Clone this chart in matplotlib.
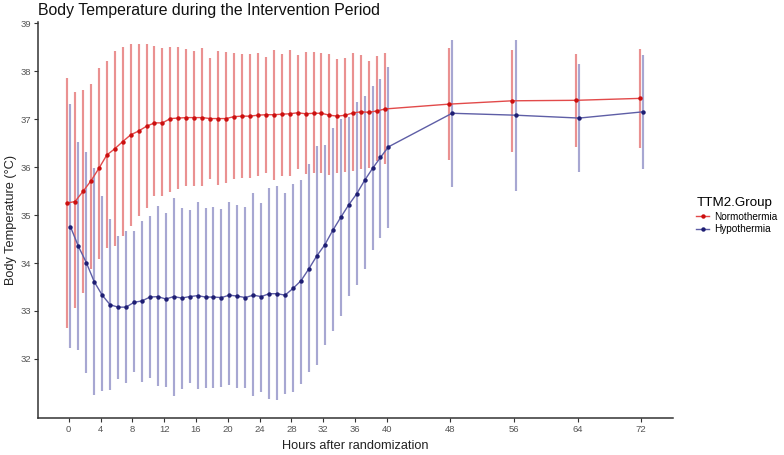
import matplotlib
matplotlib.use("Agg")
import matplotlib.pyplot as plt
from matplotlib.lines import Line2D
import numpy as np

plt.rcParams['font.family'] = ['Liberation Sans', 'DejaVu Sans']

hours = list(range(0, 41)) + [48, 56, 64, 72]
x_ticks = [0, 4, 8, 12, 16, 20, 24, 28, 32, 36, 40, 48, 56, 64, 72]
y_ticks = [32, 33, 34, 35, 36, 37, 38, 39]

normo_mean = [35.25, 35.28, 35.49, 35.71, 35.97, 36.25, 36.38, 36.53, 36.67, 36.75,
              36.85, 36.92, 36.92, 37.01, 37.02, 37.03, 37.03, 37.03, 37.01, 37.01,
              37.01, 37.05, 37.06, 37.06, 37.08, 37.09, 37.09, 37.10, 37.11, 37.13,
              37.11, 37.12, 37.12, 37.08, 37.06, 37.08, 37.13, 37.15, 37.14, 37.17,
              37.21, 37.31, 37.38, 37.39, 37.43]
normo_upper = [37.85, 37.57, 37.60, 37.72, 38.07, 38.20, 38.41, 38.51, 38.57, 38.56,
               38.57, 38.52, 38.47, 38.51, 38.51, 38.45, 38.42, 38.47, 38.28, 38.42,
               38.40, 38.37, 38.35, 38.35, 38.37, 38.29, 38.43, 38.35, 38.43, 38.33,
               38.40, 38.40, 38.37, 38.35, 38.26, 38.28, 38.38, 38.33, 38.21, 38.31,
               38.37, 38.47, 38.44, 38.35, 38.45]
normo_lower = [32.65, 33.07, 33.38, 33.88, 34.08, 34.31, 34.35, 34.56, 34.77, 34.98,
               35.15, 35.40, 35.40, 35.47, 35.54, 35.60, 35.60, 35.60, 35.74, 35.63,
               35.66, 35.74, 35.78, 35.78, 35.81, 35.88, 35.73, 35.81, 35.81, 35.95,
               35.85, 35.88, 35.88, 35.83, 35.87, 35.90, 35.92, 35.95, 35.99, 36.13,
               36.06, 36.14, 36.31, 36.42, 36.40]

hypo_mean = [34.76, 34.35, 34.01, 33.61, 33.33, 33.13, 33.08, 33.08, 33.18, 33.21,
             33.29, 33.30, 33.25, 33.30, 33.27, 33.30, 33.32, 33.29, 33.29, 33.28,
             33.33, 33.31, 33.28, 33.33, 33.30, 33.36, 33.36, 33.33, 33.47, 33.63,
             33.88, 34.15, 34.38, 34.68, 34.95, 35.21, 35.44, 35.72, 35.97, 36.20,
             36.42, 37.12, 37.08, 37.02, 37.15]
hypo_upper = [37.31, 36.52, 36.32, 35.99, 35.40, 34.91, 34.56, 34.67, 34.67, 34.88,
              34.97, 35.19, 35.05, 35.36, 35.15, 35.10, 35.27, 35.14, 35.17, 35.12,
              35.28, 35.21, 35.17, 35.45, 35.24, 35.57, 35.60, 35.45, 35.64, 35.73,
              36.07, 36.44, 36.46, 36.81, 37.01, 37.05, 37.35, 37.49, 37.69, 37.84,
              38.09, 38.65, 38.65, 38.14, 38.33]
hypo_lower = [32.22, 32.19, 31.70, 31.25, 31.33, 31.35, 31.58, 31.49, 31.72, 31.53,
              31.61, 31.44, 31.42, 31.23, 31.37, 31.49, 31.38, 31.40, 31.40, 31.42,
              31.45, 31.40, 31.39, 31.23, 31.31, 31.16, 31.14, 31.26, 31.31, 31.47,
              31.72, 31.87, 32.29, 32.58, 32.90, 33.31, 33.54, 33.88, 34.27, 34.53,
              34.72, 35.58, 35.50, 35.90, 35.95]

groups = ["Normothermia", "Hypothermia"]

fig = plt.figure(figsize=(7.84, 4.55), dpi=100)
ax = fig.add_axes([0.0491, 0.0813, 0.8093, 0.8712])

dodge = 0.21
h = np.array(hours, dtype=float)

series = [
    (normo_mean, normo_lower, normo_upper, -dodge, "#EA9191", "#E24A4A", "#CC0F0F"),
    (hypo_mean, hypo_lower, hypo_upper, dodge, "#A7A7D2", "#5E5EA6", "#1E1E73"),
]
for mean, lo, hi, off, ecol, lcol, pcol in series:
    xx = h + off
    ax.vlines(xx, lo, hi, colors=ecol, linewidth=1.55, zorder=2)
for mean, lo, hi, off, ecol, lcol, pcol in series:
    xx = h + off
    ax.plot(xx, mean, color=lcol, linewidth=1.0, zorder=3)
    ax.plot(xx, mean, linestyle='none', marker='o', markersize=3.2,
            color=pcol, markeredgewidth=0, zorder=4)

ax.set_xlim(-3.8, 76)
ax.set_ylim(30.77, 39.03)
ax.set_xticks(x_ticks)
ax.set_yticks(y_ticks)
ax.tick_params(axis='both', labelsize=6.8, labelcolor="#555555", color="#333333",
               length=3, width=0.8, pad=2)
for side in ['top', 'right']:
    ax.spines[side].set_visible(False)
for side in ['left', 'bottom']:
    ax.spines[side].set_color("#333333")
    ax.spines[side].set_linewidth(1.1)

ax.set_xlabel("Hours after randomization", fontsize=9.2, color="#222222", labelpad=4)
ax.set_ylabel("Body Temperature (°C)", fontsize=9.2, color="#222222", labelpad=3)
fig.text(0.048, 0.976, "Body Temperature during the Intervention Period",
         fontsize=11.4, color="#111111", ha='left', va='center')

handles = [
    Line2D([0], [0], color="#E24A4A", linewidth=1.0, marker='o', markersize=3.2,
           markerfacecolor="#CC0F0F", markeredgewidth=0),
    Line2D([0], [0], color="#5E5EA6", linewidth=1.0, marker='o', markersize=3.2,
           markerfacecolor="#1E1E73", markeredgewidth=0),
]
leg = fig.legend(handles, groups, title="TTM2.Group", loc='upper left',
                 bbox_to_anchor=(0.882, 0.578), frameon=False, fontsize=7.2,
                 title_fontsize=9.6, handlelength=1.3, handletextpad=0.5,
                 labelspacing=0.25, borderpad=0)
leg._legend_box.align = "left"

fig.savefig("out.png", dpi=100)
